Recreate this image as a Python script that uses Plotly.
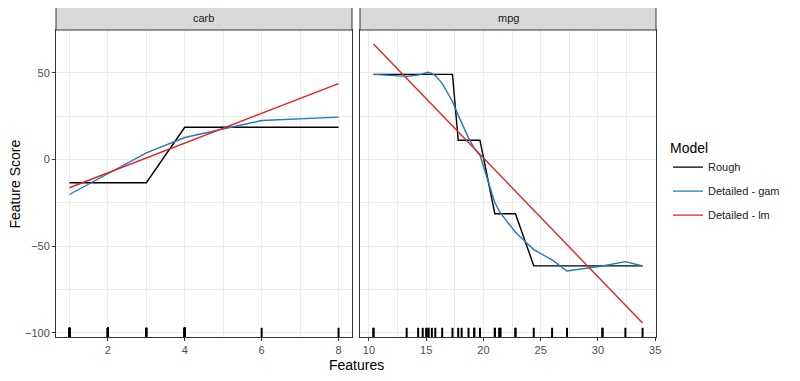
import plotly.graph_objects as go

# ---------------- data ----------------
carb_x = [1, 2, 3, 4, 6, 8]
carb_rough = [-13.4, -13.4, -13.4, 18.6, 18.6, 18.6]
carb_gam = [-20.2, -8.2, 3.8, 12.7, 22.5, 24.5]
carb_lm_x = [1, 8]
carb_lm = [-16.3, 43.8]

mpg_x = [10.4, 13.3, 14.3, 14.7, 15.0, 15.2, 15.5, 15.8, 16.4, 17.3, 17.8, 18.1,
         18.7, 19.2, 19.7, 21.0, 21.4, 21.5, 22.8, 24.4, 26.0, 27.3, 30.4, 32.4, 33.9]
mpg_rough = [49.2, 49.2, 49.2, 49.2, 49.2, 49.2, 49.2, 49.2, 49.2, 49.2, 11.1, 11.1,
             11.1, 11.1, 11.1, -31.3, -31.3, -31.3, -31.3, -61.4, -61.4, -61.4, -61.4, -61.4, -61.4]
mpg_gam = [49.2, 48.0, 48.8, 49.6, 50.4, 50.4, 49.8, 48.5, 44.0, 33.5, 25.5, 21.0,
           12.5, 6.5, 2.5, -25.0, -29.5, -31.0, -42.0, -52.0, -58.0, -64.4, -61.5, -59.0, -61.5]
mpg_lm_x = [10.4, 33.9]
mpg_lm = [66.7, -94.4]

# raw observations (rug)
rug_mpg = [21, 21, 22.8, 21.4, 18.7, 18.1, 14.3, 24.4, 22.8, 19.2, 17.8, 16.4, 17.3, 15.2,
           10.4, 10.4, 14.7, 32.4, 30.4, 33.9, 21.5, 15.5, 15.2, 13.3, 19.2, 27.3, 26, 30.4,
           15.8, 19.7, 15, 21.4]
rug_carb = [4, 4, 1, 1, 2, 1, 4, 2, 2, 4, 4, 3, 3, 3, 4, 4, 4, 1, 2, 1, 1, 2, 2, 4, 2, 1,
            2, 2, 4, 6, 8, 2]

panels = ["carb", "mpg"]
model_names = ["Rough", "Detailed - gam", "Detailed - lm"]
colors = ["#000000", "#1f7bc1", "#e8231f"]

# ---------------- layout constants ----------------
Y_RANGE = [-102.5, 74.8]
RUG_LEN = 0.03 * (Y_RANGE[1] - Y_RANGE[0])
GRID = "#ebebeb"
BORDER = "#333333"
FONT = "Liberation Sans, Arial, sans-serif"

fig = go.Figure()

series = [
    ("x", "y", [(carb_x, carb_rough), (carb_x, carb_gam), (carb_lm_x, carb_lm)]),
    ("x2", "y2", [(mpg_x, mpg_rough), (mpg_x, mpg_gam), (mpg_lm_x, mpg_lm)]),
]
for pi, (xa, ya, sets) in enumerate(series):
    for mi, (xs, ys) in enumerate(sets):
        fig.add_trace(go.Scatter(
            x=xs, y=ys, mode="lines", xaxis=xa, yaxis=ya,
            line=dict(color=colors[mi], width=1.4),
            name=model_names[mi], legendgroup=model_names[mi],
            showlegend=(pi == 0),
        ))

# rugs
for xa, ya, vals in (("x", "y", rug_carb), ("x2", "y2", rug_mpg)):
    rx, ry = [], []
    for v in vals:
        rx += [v, v, None]
        ry += [Y_RANGE[0], Y_RANGE[0] + RUG_LEN, None]
    fig.add_trace(go.Scatter(x=rx, y=ry, mode="lines", xaxis=xa, yaxis=ya,
                             line=dict(color="#000000", width=2), showlegend=False,
                             hoverinfo="skip"))

axis_common = dict(
    showgrid=True, gridcolor=GRID, gridwidth=1,
    showline=True, linecolor=BORDER, linewidth=1, mirror=True,
    ticks="outside", ticklen=3, tickcolor=BORDER, tickwidth=1,
    tickfont=dict(family=FONT, size=11, color="#4d4d4d"),
    zeroline=False,
)

fig.update_layout(
    width=792, height=373,
    margin=dict(l=48, r=144, t=22, b=44),
    plot_bgcolor="white", paper_bgcolor="white",
    font=dict(family=FONT),
    xaxis=dict(domain=[0, 0.4933], range=[0.65, 8.35], tick0=0, dtick=2,
               minor=dict(showgrid=True, gridcolor=GRID, gridwidth=0.5, dtick=1, tick0=0),
               anchor="y", **axis_common),
    xaxis2=dict(domain=[0.5067, 1], range=[9.225, 35.075], tick0=0, dtick=5,
                minor=dict(showgrid=True, gridcolor=GRID, gridwidth=0.5, dtick=2.5, tick0=0),
                anchor="y2", **axis_common),
    yaxis=dict(range=Y_RANGE, tick0=0, dtick=50,
               minor=dict(showgrid=True, gridcolor=GRID, gridwidth=0.5, dtick=25, tick0=0),
               anchor="x", **axis_common),
    yaxis2=dict(range=Y_RANGE, tick0=0, dtick=50, matches="y",
                minor=dict(showgrid=True, gridcolor=GRID, gridwidth=0.5, dtick=25, tick0=0),
                anchor="x2", showgrid=True, gridcolor=GRID, gridwidth=1,
                showline=True, linecolor=BORDER, linewidth=1, mirror=True,
                showticklabels=False, ticks="", zeroline=False),
    legend=dict(x=1.02, xanchor="left", y=0.66, yanchor="top",
                title=dict(text="Model", font=dict(family=FONT, size=14, color="#000000")),
                font=dict(family=FONT, size=11, color="#1a1a1a"),
                tracegroupgap=5, bgcolor="rgba(0,0,0,0)"),
    showlegend=True,
)

# strips
strip_h = 23 / 307
for xa, label in (("x", panels[0]), ("x2", panels[1])):
    fig.add_shape(type="rect", xref=f"{xa} domain", yref="paper",
                  x0=0, x1=1, y0=1, y1=1 + strip_h,
                  fillcolor="#d9d9d9", line=dict(color=BORDER, width=1), layer="above")
    fig.add_annotation(xref=f"{xa} domain", yref="paper", x=0.5, y=1 + strip_h / 2,
                       text=label, showarrow=False,
                       font=dict(family=FONT, size=11, color="#1a1a1a"),
                       xanchor="center", yanchor="middle")

# axis titles
fig.add_annotation(xref="paper", yref="paper", x=0.5, y=-0.06, yanchor="top",
                   text="Features", showarrow=False,
                   font=dict(family=FONT, size=14, color="#000000"))
fig.add_annotation(xref="paper", yref="paper", x=-0.07, y=0.5, textangle=-90,
                   xanchor="center", yanchor="middle",
                   text="Feature Score", showarrow=False,
                   font=dict(family=FONT, size=14, color="#000000"))

fig.write_html("out.html")
